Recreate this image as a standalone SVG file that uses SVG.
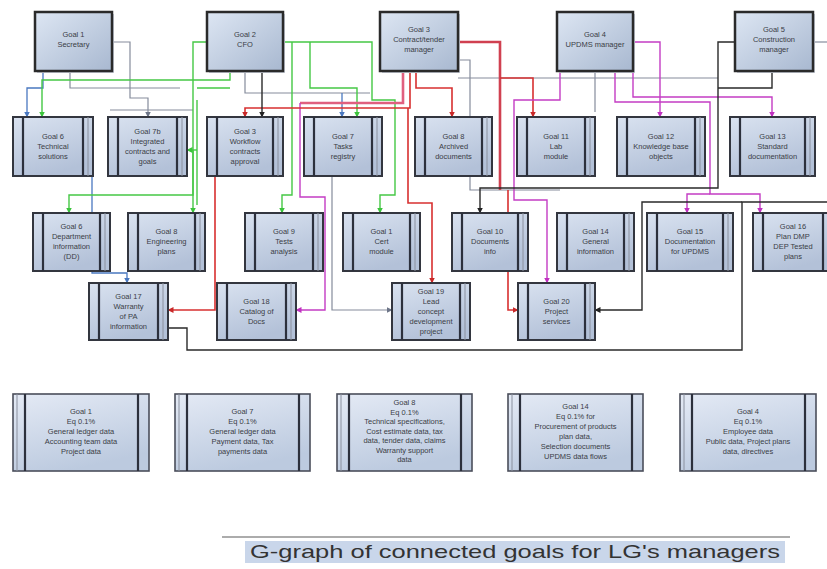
<svg xmlns="http://www.w3.org/2000/svg" width="827" height="569" viewBox="0 0 827 569">
<defs>
<linearGradient id="gTop" x1="0" y1="0" x2="1" y2="1"><stop offset="0" stop-color="#dde6f3"/><stop offset="1" stop-color="#a8b8d0"/></linearGradient>
<linearGradient id="gBox" x1="0" y1="0" x2="0.4" y2="1"><stop offset="0" stop-color="#d9e2f0"/><stop offset="1" stop-color="#b3c1d8"/></linearGradient>
<linearGradient id="gBot" x1="0" y1="0" x2="0.4" y2="1"><stop offset="0" stop-color="#e4eaf5"/><stop offset="1" stop-color="#bccadf"/></linearGradient>
<marker id="aG" viewBox="0 0 6 6" refX="5.5" refY="3" markerWidth="6" markerHeight="6" markerUnits="userSpaceOnUse" orient="auto"><path d="M0,0 L6,3 L0,6 z" fill="#3cc43c"/></marker>
<marker id="aR" viewBox="0 0 6 6" refX="5.5" refY="3" markerWidth="6" markerHeight="6" markerUnits="userSpaceOnUse" orient="auto"><path d="M0,0 L6,3 L0,6 z" fill="#c82828"/></marker>
<marker id="aM" viewBox="0 0 6 6" refX="5.5" refY="3" markerWidth="6" markerHeight="6" markerUnits="userSpaceOnUse" orient="auto"><path d="M0,0 L6,3 L0,6 z" fill="#c030c0"/></marker>
<marker id="aK" viewBox="0 0 6 6" refX="5.5" refY="3" markerWidth="6" markerHeight="6" markerUnits="userSpaceOnUse" orient="auto"><path d="M0,0 L6,3 L0,6 z" fill="#222"/></marker>
<marker id="aY" viewBox="0 0 6 6" refX="5.5" refY="3" markerWidth="6" markerHeight="6" markerUnits="userSpaceOnUse" orient="auto"><path d="M0,0 L6,3 L0,6 z" fill="#6d7588"/></marker>
<marker id="aB" viewBox="0 0 6 6" refX="5.5" refY="3" markerWidth="6" markerHeight="6" markerUnits="userSpaceOnUse" orient="auto"><path d="M0,0 L6,3 L0,6 z" fill="#4a78c0"/></marker>
</defs>
<style>
.tb{fill:url(#gTop);stroke:#2a2a2a;stroke-width:2.5}
.pb{fill:url(#gBox);stroke:#33363f;stroke-width:2}
.bb{fill:url(#gBot);stroke:#4a4e5a;stroke-width:1.6}
.sh{fill:#c9ced8}
.bar{stroke:#2c303c;stroke-width:2.2}
.bar2{stroke:#8a909e;stroke-width:1}
.t{font-family:"Liberation Sans",Arial,sans-serif;font-size:7.5px;fill:#3a3d46;text-anchor:middle}
.c{fill:none;stroke-linejoin:miter}
.cg{stroke:#45c845;stroke-width:1.4}
.cr{stroke:#d83030;stroke-width:1.6}
.cp{stroke:#e0607f;stroke-width:2.6}
.cm{stroke:#c43cc4;stroke-width:1.4}
.ck{stroke:#2a2a2a;stroke-width:1.4}
.cy{stroke:#858c9c;stroke-width:1.2}
.cb{stroke:#4a78c0;stroke-width:1.3}
</style>
<rect width="827" height="569" fill="#ffffff"/>

<g id="connectors">
<path class="c cy" d="M112,42 H130 V98 H148 V117" marker-end="url(#aY)"/>
<path class="c cy" d="M70,71 V88 H180"/>
<path class="c cy" d="M110,110 H193"/>
<path class="c cy" d="M245,71 V93 H370"/>
<path class="c cy" d="M458,78 H718"/>
<path class="c cy" d="M595,71 V112"/>
<path class="c cy" d="M813,42 H827"/>
<path class="c cy" d="M332,176 V310 H392" marker-end="url(#aY)"/>
<path class="c cy" d="M458,60 H470 V190 H560"/>
<path class="c cb" d="M43,71 V88 H27 V117" marker-end="url(#aB)"/>
<path class="c cb" d="M342,93 V117" marker-end="url(#aB)"/>
<path class="c cb" d="M92,176 V273 H127 V283" marker-end="url(#aB)"/>

<path class="c cg" d="M230,71 V80 H42 V117" marker-end="url(#aG)"/>
<path class="c cg" d="M207,42 H193 V195 H69 V213" marker-end="url(#aG)"/>
<path class="c cg" d="M193,150 V213" marker-end="url(#aG)"/>
<path class="c cg" d="M197,150 H187" marker-end="url(#aG)"/>
<path class="c cg" d="M197,88 H230"/>
<path class="c cg" d="M197,100 V205"/>
<path class="c cg" d="M283,42 H372 V100 H395 V195 H380 V213" marker-end="url(#aG)"/>
<path class="c cg" d="M310,42 V88 H357 V117" marker-end="url(#aG)"/>
<path class="c cg" d="M292,42 V195 H282 V213" marker-end="url(#aG)"/>

<path class="c cp" d="M403,71 V103 H300"/>
<path class="c cp" d="M458,42 H500 V190" style="stroke:#d04050"/>
<path class="c cm" d="M300,103 V197 H325 V310 H296" marker-end="url(#aM)"/>
<path class="c cr" d="M410,71 V108 H245 V117" marker-end="url(#aR)"/>
<path class="c cr" d="M416,71 V88 H452 V117" marker-end="url(#aR)"/>
<path class="c cr" d="M500,78 H533 V117" marker-end="url(#aR)"/>
<path class="c cr" d="M408,108 V203 H432 V283" marker-end="url(#aR)"/>
<path class="c cr" d="M215,176 V310 H168" marker-end="url(#aR)"/>
<path class="c cr" d="M508,190 V310 H518" marker-end="url(#aR)"/>

<path class="c cm" d="M560,71 V100 H514 V200 H547 V283" marker-end="url(#aM)"/>
<path class="c cm" d="M633,42 H660 V117" marker-end="url(#aM)"/>
<path class="c cm" d="M633,71 V97 H772 V117" marker-end="url(#aM)"/>
<path class="c cm" d="M615,71 V102 H710 V194 H760 V213" marker-end="url(#aM)"/>
<path class="c cm" d="M710,194 H687 V213" marker-end="url(#aM)"/>

<path class="c ck" d="M772,71 V88 H718"/>
<path class="c ck" d="M735,42 H718 V188 H480 V213" marker-end="url(#aK)"/>
<path class="c ck" d="M262,71 V117" marker-end="url(#aK)"/>
<path class="c ck" d="M168,328 H187 V350 H742 V202 H827"/>
<path class="c ck" d="M742,202 H642 V310 H595" marker-end="url(#aK)"/>
</g>

<g id="g1"><rect class="sh" x="37" y="14" width="77" height="59"/><rect class="tb" x="35" y="12" width="77" height="59"/><text class="t" x="73.5" y="37">Goal 1</text><text class="t" x="73.5" y="47">Secretary</text></g>
<g id="g2"><rect class="sh" x="209" y="14" width="76" height="59"/><rect class="tb" x="207" y="12" width="76" height="59"/><text class="t" x="245" y="37">Goal 2</text><text class="t" x="245" y="47">CFO</text></g>
<g id="g3"><rect class="sh" x="382" y="14" width="78" height="59"/><rect class="tb" x="380" y="12" width="78" height="59"/><text class="t" x="419" y="32">Goal 3</text><text class="t" x="419" y="42">Contract/tender</text><text class="t" x="419" y="52">manager</text></g>
<g id="g4"><rect class="sh" x="559" y="14" width="76" height="59"/><rect class="tb" x="557" y="12" width="76" height="59"/><text class="t" x="595" y="37">Goal 4</text><text class="t" x="595" y="47">UPDMS manager</text></g>
<g id="g5"><rect class="sh" x="737" y="14" width="78" height="59"/><rect class="tb" x="735" y="12" width="78" height="59"/><text class="t" x="774" y="32">Goal 5</text><text class="t" x="774" y="42">Construction</text><text class="t" x="774" y="52">manager</text></g>

<g id="n6"><rect class="pb" x="13" y="117" width="80" height="59"/><line class="bar" x1="23" y1="117" x2="23" y2="176"/><line class="bar" x1="83" y1="117" x2="83" y2="176"/><line class="bar2" x1="88" y1="117" x2="88" y2="176"/><text class="t" x="53" y="139">Goal 6</text><text class="t" x="53" y="149">Technical</text><text class="t" x="53" y="159">solutions</text></g>
<g id="n7b"><rect class="pb" x="108" y="117" width="79" height="59"/><line class="bar" x1="118" y1="117" x2="118" y2="176"/><line class="bar" x1="177" y1="117" x2="177" y2="176"/><line class="bar2" x1="182" y1="117" x2="182" y2="176"/><text class="t" x="147.5" y="134">Goal 7b</text><text class="t" x="147.5" y="144">Integrated</text><text class="t" x="147.5" y="154">contracts and</text><text class="t" x="147.5" y="164">goals</text></g>
<g id="n3w"><rect class="pb" x="207" y="117" width="76" height="59"/><line class="bar" x1="217" y1="117" x2="217" y2="176"/><line class="bar" x1="273" y1="117" x2="273" y2="176"/><line class="bar2" x1="278" y1="117" x2="278" y2="176"/><text class="t" x="245" y="134">Goal 3</text><text class="t" x="245" y="144">Workflow</text><text class="t" x="245" y="154">contracts</text><text class="t" x="245" y="164">approval</text></g>
<g id="n7"><rect class="pb" x="304" y="117" width="78" height="59"/><line class="bar" x1="314" y1="117" x2="314" y2="176"/><line class="bar" x1="372" y1="117" x2="372" y2="176"/><line class="bar2" x1="377" y1="117" x2="377" y2="176"/><text class="t" x="343" y="139">Goal 7</text><text class="t" x="343" y="149">Tasks</text><text class="t" x="343" y="159">registry</text></g>
<g id="n8"><rect class="pb" x="415" y="117" width="77" height="59"/><line class="bar" x1="425" y1="117" x2="425" y2="176"/><line class="bar" x1="482" y1="117" x2="482" y2="176"/><line class="bar2" x1="487" y1="117" x2="487" y2="176"/><text class="t" x="453.5" y="139">Goal 8</text><text class="t" x="453.5" y="149">Archived</text><text class="t" x="453.5" y="159">documents</text></g>
<g id="n11"><rect class="pb" x="517" y="117" width="78" height="59"/><line class="bar" x1="527" y1="117" x2="527" y2="176"/><line class="bar" x1="585" y1="117" x2="585" y2="176"/><line class="bar2" x1="590" y1="117" x2="590" y2="176"/><text class="t" x="556" y="139">Goal 11</text><text class="t" x="556" y="149">Lab</text><text class="t" x="556" y="159">module</text></g>
<g id="n12"><rect class="pb" x="617" y="117" width="88" height="59"/><line class="bar" x1="627" y1="117" x2="627" y2="176"/><line class="bar" x1="695" y1="117" x2="695" y2="176"/><line class="bar2" x1="700" y1="117" x2="700" y2="176"/><text class="t" x="661" y="139">Goal 12</text><text class="t" x="661" y="149">Knowledge base</text><text class="t" x="661" y="159">objects</text></g>
<g id="n13"><rect class="pb" x="730" y="117" width="85" height="59"/><line class="bar" x1="740" y1="117" x2="740" y2="176"/><line class="bar" x1="805" y1="117" x2="805" y2="176"/><line class="bar2" x1="810" y1="117" x2="810" y2="176"/><text class="t" x="772.5" y="139">Goal 13</text><text class="t" x="772.5" y="149">Standard</text><text class="t" x="772.5" y="159">documentation</text></g>

<g id="n6d"><rect class="pb" x="33" y="213" width="77" height="58"/><line class="bar" x1="43" y1="213" x2="43" y2="271"/><line class="bar" x1="100" y1="213" x2="100" y2="271"/><line class="bar2" x1="105" y1="213" x2="105" y2="271"/><text class="t" x="71.5" y="229">Goal 6</text><text class="t" x="71.5" y="239">Department</text><text class="t" x="71.5" y="249">information</text><text class="t" x="71.5" y="259">(DD)</text></g>
<g id="n8e"><rect class="pb" x="128" y="213" width="77" height="58"/><line class="bar" x1="138" y1="213" x2="138" y2="271"/><line class="bar" x1="195" y1="213" x2="195" y2="271"/><line class="bar2" x1="200" y1="213" x2="200" y2="271"/><text class="t" x="166.5" y="234">Goal 8</text><text class="t" x="166.5" y="244">Engineering</text><text class="t" x="166.5" y="254">plans</text></g>
<g id="n9"><rect class="pb" x="245" y="213" width="78" height="58"/><line class="bar" x1="255" y1="213" x2="255" y2="271"/><line class="bar" x1="313" y1="213" x2="313" y2="271"/><line class="bar2" x1="318" y1="213" x2="318" y2="271"/><text class="t" x="284" y="234">Goal 9</text><text class="t" x="284" y="244">Tests</text><text class="t" x="284" y="254">analysis</text></g>
<g id="n1c"><rect class="pb" x="343" y="213" width="77" height="58"/><line class="bar" x1="353" y1="213" x2="353" y2="271"/><line class="bar" x1="410" y1="213" x2="410" y2="271"/><line class="bar2" x1="415" y1="213" x2="415" y2="271"/><text class="t" x="381.5" y="234">Goal 1</text><text class="t" x="381.5" y="244">Cert</text><text class="t" x="381.5" y="254">module</text></g>
<g id="n10"><rect class="pb" x="452" y="213" width="76" height="58"/><line class="bar" x1="462" y1="213" x2="462" y2="271"/><line class="bar" x1="518" y1="213" x2="518" y2="271"/><line class="bar2" x1="523" y1="213" x2="523" y2="271"/><text class="t" x="490" y="234">Goal 10</text><text class="t" x="490" y="244">Documents</text><text class="t" x="490" y="254">info</text></g>
<g id="n14"><rect class="pb" x="557" y="213" width="77" height="58"/><line class="bar" x1="567" y1="213" x2="567" y2="271"/><line class="bar" x1="624" y1="213" x2="624" y2="271"/><line class="bar2" x1="629" y1="213" x2="629" y2="271"/><text class="t" x="595.5" y="234">Goal 14</text><text class="t" x="595.5" y="244">General</text><text class="t" x="595.5" y="254">information</text></g>
<g id="n15"><rect class="pb" x="647" y="213" width="86" height="58"/><line class="bar" x1="657" y1="213" x2="657" y2="271"/><line class="bar" x1="723" y1="213" x2="723" y2="271"/><line class="bar2" x1="728" y1="213" x2="728" y2="271"/><text class="t" x="690" y="234">Goal 15</text><text class="t" x="690" y="244">Documentation</text><text class="t" x="690" y="254">for UPDMS</text></g>
<g id="n16"><rect class="pb" x="753" y="213" width="80" height="58"/><line class="bar" x1="763" y1="213" x2="763" y2="271"/><line class="bar" x1="823" y1="213" x2="823" y2="271"/><text class="t" x="793" y="229">Goal 16</text><text class="t" x="793" y="239">Plan DMP</text><text class="t" x="793" y="249">DEP Tested</text><text class="t" x="793" y="259">plans</text></g>

<g id="n17"><rect class="pb" x="89" y="283" width="79" height="57"/><line class="bar" x1="99" y1="283" x2="99" y2="340"/><line class="bar" x1="158" y1="283" x2="158" y2="340"/><line class="bar2" x1="163" y1="283" x2="163" y2="340"/><text class="t" x="128.5" y="299">Goal 17</text><text class="t" x="128.5" y="309">Warranty</text><text class="t" x="128.5" y="319">of PA</text><text class="t" x="128.5" y="329">information</text></g>
<g id="n18"><rect class="pb" x="217" y="283" width="79" height="57"/><line class="bar" x1="227" y1="283" x2="227" y2="340"/><line class="bar" x1="286" y1="283" x2="286" y2="340"/><line class="bar2" x1="291" y1="283" x2="291" y2="340"/><text class="t" x="256.5" y="304">Goal 18</text><text class="t" x="256.5" y="314">Catalog of</text><text class="t" x="256.5" y="324">Docs</text></g>
<g id="n19"><rect class="pb" x="392" y="283" width="78" height="57"/><line class="bar" x1="402" y1="283" x2="402" y2="340"/><line class="bar" x1="460" y1="283" x2="460" y2="340"/><line class="bar2" x1="465" y1="283" x2="465" y2="340"/><text class="t" x="431" y="294">Goal 19</text><text class="t" x="431" y="304">Lead</text><text class="t" x="431" y="314">concept</text><text class="t" x="431" y="324">development</text><text class="t" x="431" y="334">project</text></g>
<g id="n20"><rect class="pb" x="518" y="283" width="77" height="57"/><line class="bar" x1="528" y1="283" x2="528" y2="340"/><line class="bar" x1="585" y1="283" x2="585" y2="340"/><line class="bar2" x1="590" y1="283" x2="590" y2="340"/><text class="t" x="556.5" y="304">Goal 20</text><text class="t" x="556.5" y="314">Project</text><text class="t" x="556.5" y="324">services</text></g>

<g id="b1"><rect class="bb" x="13" y="394" width="136" height="77"/><line class="bar2" x1="17" y1="394" x2="17" y2="471"/><line class="bar" x1="25" y1="394" x2="25" y2="471"/><line class="bar" x1="138" y1="394" x2="138" y2="471"/><text class="t" x="81" y="414">Goal 1</text><text class="t" x="81" y="424">Eq 0.1%</text><text class="t" x="81" y="434">General ledger data</text><text class="t" x="81" y="444">Accounting team data</text><text class="t" x="81" y="454">Project data</text></g>
<g id="b2"><rect class="bb" x="175" y="394" width="135" height="77"/><line class="bar2" x1="179" y1="394" x2="179" y2="471"/><line class="bar" x1="187" y1="394" x2="187" y2="471"/><line class="bar" x1="299" y1="394" x2="299" y2="471"/><text class="t" x="242.5" y="414">Goal 7</text><text class="t" x="242.5" y="424">Eq 0.1%</text><text class="t" x="242.5" y="434">General ledger data</text><text class="t" x="242.5" y="444">Payment data, Tax</text><text class="t" x="242.5" y="454">payments data</text></g>
<g id="b3"><rect class="bb" x="337" y="394" width="135" height="77"/><line class="bar2" x1="341" y1="394" x2="341" y2="471"/><line class="bar" x1="349" y1="394" x2="349" y2="471"/><line class="bar" x1="461" y1="394" x2="461" y2="471"/><text class="t" x="404.5" y="405">Goal 8</text><text class="t" x="404.5" y="414.5">Eq 0.1%</text><text class="t" x="404.5" y="424">Technical specifications,</text><text class="t" x="404.5" y="433.5">Cost estimate data, tax</text><text class="t" x="404.5" y="443">data, tender data, claims</text><text class="t" x="404.5" y="452.5">Warranty support</text><text class="t" x="404.5" y="462">data</text></g>
<g id="b4"><rect class="bb" x="508" y="394" width="135" height="77"/><line class="bar2" x1="512" y1="394" x2="512" y2="471"/><line class="bar" x1="520" y1="394" x2="520" y2="471"/><line class="bar" x1="632" y1="394" x2="632" y2="471"/><text class="t" x="575.5" y="409">Goal 14</text><text class="t" x="575.5" y="419">Eq 0.1% for</text><text class="t" x="575.5" y="429">Procurement of products</text><text class="t" x="575.5" y="439">plan data,</text><text class="t" x="575.5" y="449">Selection documents</text><text class="t" x="575.5" y="459">UPDMS data flows</text></g>
<g id="b5"><rect class="bb" x="680" y="394" width="136" height="77"/><line class="bar2" x1="684" y1="394" x2="684" y2="471"/><line class="bar" x1="692" y1="394" x2="692" y2="471"/><line class="bar" x1="805" y1="394" x2="805" y2="471"/><text class="t" x="748" y="414">Goal 4</text><text class="t" x="748" y="424">Eq 0.1%</text><text class="t" x="748" y="434">Employee data</text><text class="t" x="748" y="444">Public data, Project plans</text><text class="t" x="748" y="454">data, directives</text></g>

<g id="caption">
<line x1="222" y1="537" x2="790" y2="537" stroke="#5a5a5a" stroke-width="1.2"/>
<rect x="245" y="541" width="540" height="22" fill="#c9d6ea"/>
<text x="250" y="558" font-family="'Liberation Sans',Arial,sans-serif" font-size="19" fill="#333" textLength="530" lengthAdjust="spacingAndGlyphs">G-graph of connected goals for LG's managers</text>
</g>
</svg>
